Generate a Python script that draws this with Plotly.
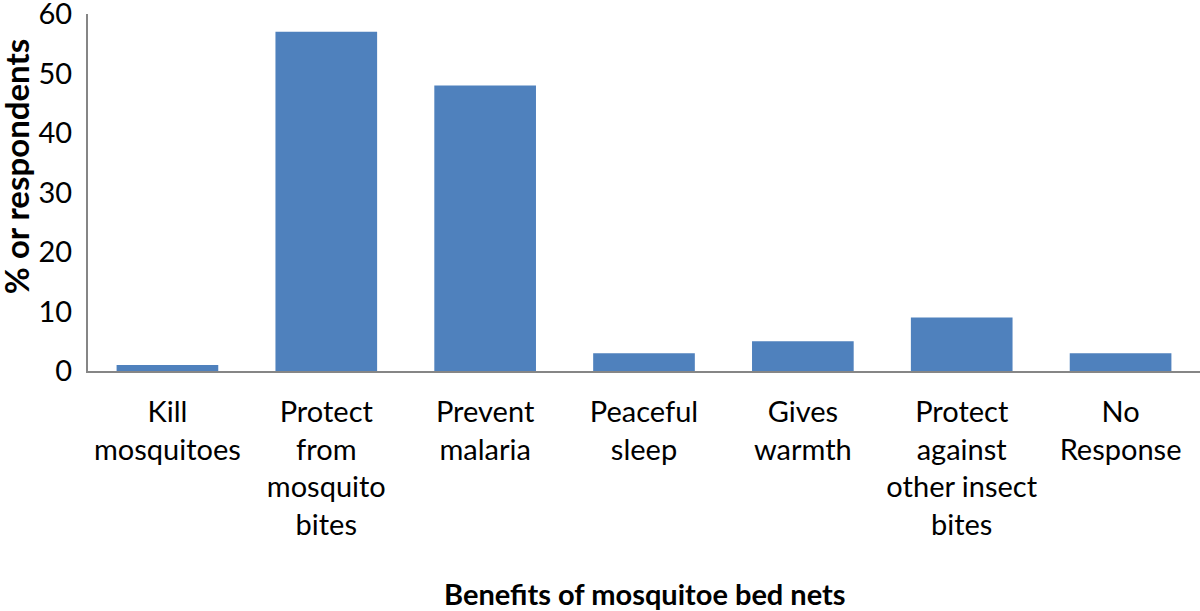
import plotly.graph_objects as go

categories = [
    "Kill<br>mosquitoes",
    "Protect<br>from<br>mosquito<br>bites",
    "Prevent<br>malaria",
    "Peaceful<br>sleep",
    "Gives<br>warmth",
    "Protect<br>against<br>other insect<br>bites",
    "No<br>Response",
]
values = [1, 57, 48, 3, 5, 9, 3]
y_ticks = [0, 10, 20, 30, 40, 50, 60]

FONT = "Lato, Carlito, Calibri, sans-serif"
AXIS_GREY = "#868686"

fig = go.Figure(go.Bar(
    x=list(range(len(values))),
    y=values,
    marker=dict(color="#4F81BD", line=dict(width=0)),
    width=0.64,
))

fig.update_layout(
    width=1200, height=611,
    margin=dict(l=88, r=0, t=14, b=240),
    plot_bgcolor="white", paper_bgcolor="white",
    showlegend=False,
    font=dict(family=FONT, color="black", size=29),
    annotations=[
        dict(text="<b>Benefits of mosquitoe bed nets</b>",
             xref="paper", yref="paper", x=0.501, y=0,
             xanchor="center", yanchor="middle", yshift=-222,
             showarrow=False, font=dict(size=29)),
        dict(text="<b>% or respondents</b>", textangle=-90,
             xref="paper", yref="paper", x=0, y=0.571,
             xanchor="center", yanchor="middle", xshift=-72,
             showarrow=False, font=dict(size=33)),
    ],
)

fig.update_xaxes(
    tickmode="array",
    tickvals=list(range(len(values))),
    ticktext=categories,
    range=[-0.5, len(values) - 0.5],
    showline=True, linecolor=AXIS_GREY, linewidth=2,
    showgrid=False, zeroline=False, ticks="",
    ticklabelstandoff=14,
    automargin=False,
)
fig.update_yaxes(
    range=[0, 60],
    tickmode="array", tickvals=y_ticks,
    showline=True, linecolor=AXIS_GREY, linewidth=2,
    showgrid=False, zeroline=False, ticks="",
    ticklabelstandoff=8,
    ticklabeloverflow="allow",
    automargin=False,
)

# drop the page's default 8px body margin so the figure fills the window
fig.write_html(
    "out.html",
    config={"displayModeBar": False},
    post_script="document.body.style.margin='0';",
)
